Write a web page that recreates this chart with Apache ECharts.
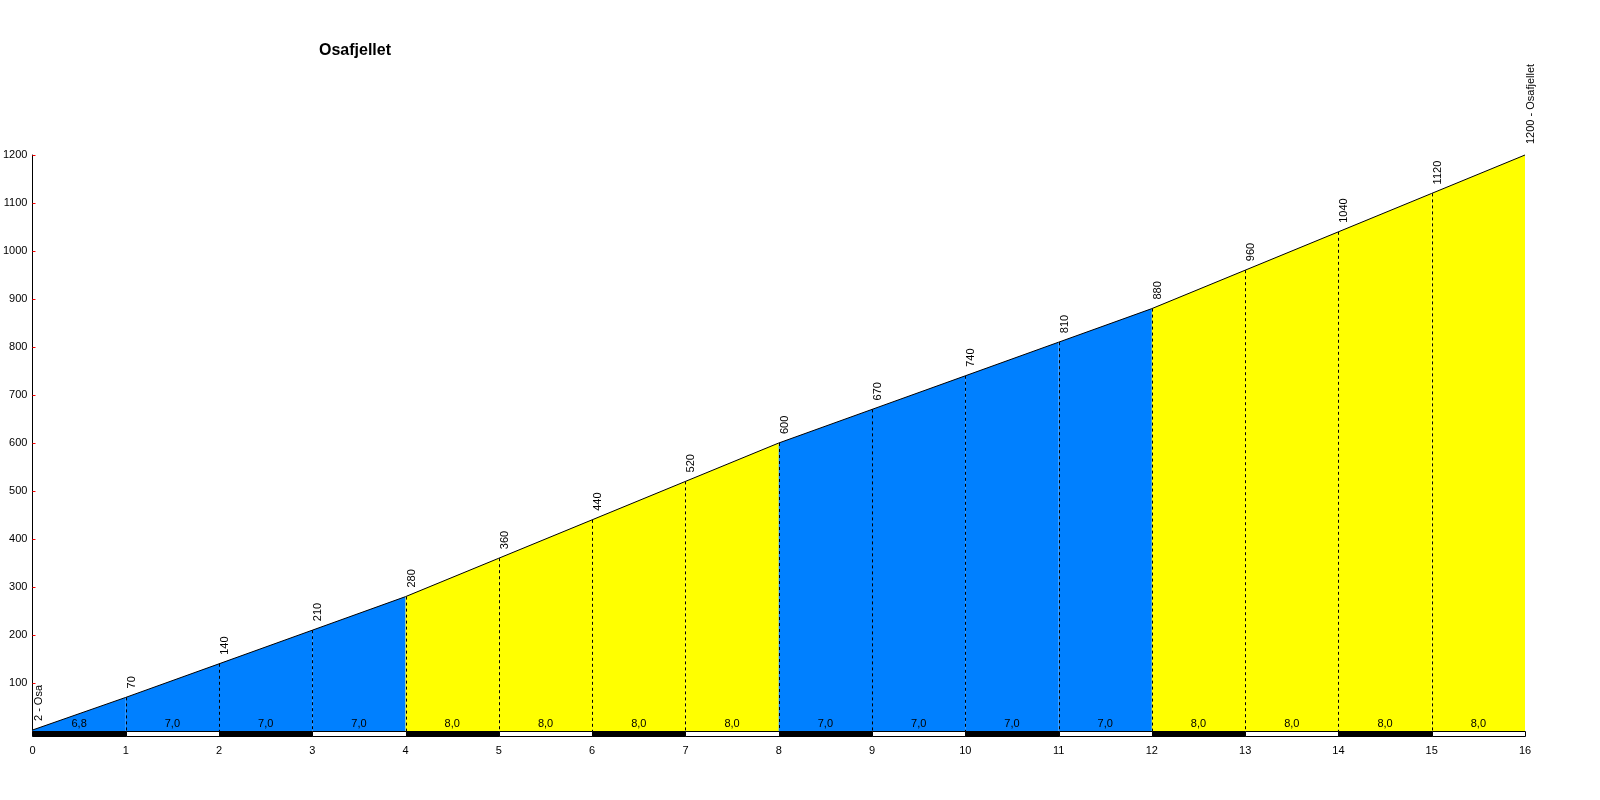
<!DOCTYPE html>
<html>
<head>
<meta charset="utf-8">
<script src="https://cdn.jsdelivr.net/npm/echarts@6/dist/echarts.min.js"></script>
<style>
html,body{margin:0;padding:0;background:#fff;}
#c{width:1600px;height:800px;}
</style>
</head>
<body>
<div id="c"></div>
<script>
const kms = [0,1,2,3,4,5,6,7,8,9,10,11,12,13,14,15,16];
const elevations = [2,70,140,210,280,360,440,520,600,670,740,810,880,960,1040,1120,1200];
const pointLabels = ['2 - Osa','70','140','210','280','360','440','520','600','670','740','810','880','960','1040','1120','1200 - Osafjellet'];
const gradients = ['6,8','7,0','7,0','7,0','8,0','8,0','8,0','8,0','7,0','7,0','7,0','7,0','8,0','8,0','8,0','8,0'];
const xTicks = [0,1,2,3,4,5,6,7,8,9,10,11,12,13,14,15,16];
const title = 'Osafjellet';

const BLUE = '#0080ff', YELLOW = '#ffff00';
const FONT = 'Arial, "Liberation Sans", sans-serif';

function gradColor(g){ return parseFloat(g.replace(',', '.')) >= 7.5 ? YELLOW : BLUE; }

const segData = gradients.map((g, i) => [kms[i], elevations[i], kms[i+1], elevations[i+1], g]);
const ptData = kms.map((k, i) => [k, elevations[i], pointLabels[i]]);

const chart = echarts.init(document.getElementById('c'), null, {renderer: 'canvas'});
chart.setOption({
  animation: false,
  title: {
    text: title, left: 314, top: 38,
    textStyle: {fontFamily: FONT, fontSize: 16, fontWeight: 'bold', color: '#000'}
  },
  grid: {left: 31, right: 75, top: 155, bottom: 69, containLabel: false},
  xAxis: {
    type: 'value', min: 0, max: 16, interval: 1,
    axisLine: {show: false}, axisTick: {show: false}, splitLine: {show: false},
    axisLabel: {
      margin: 14, color: '#000', fontFamily: FONT, fontSize: 11,
      formatter: v => xTicks.includes(v) ? String(v) : ''
    }
  },
  yAxis: {
    type: 'value', min: 0, max: 1200, interval: 100,
    axisLine: {show: true, lineStyle: {color: '#000', width: 1}},
    axisTick: {show: true, inside: true, length: 3, lineStyle: {color: '#ff0000'}},
    splitLine: {show: false},
    axisLabel: {
      margin: 5, color: '#000', fontFamily: FONT, fontSize: 11,
      formatter: v => v === 0 ? '' : String(v)
    }
  },
  series: [
    {
      type: 'custom', z: 1, clip: false,
      data: segData,
      renderItem: function (params, api) {
        const x0 = api.value(0), e0 = api.value(1), x1 = api.value(2), e1 = api.value(3);
        const g = segData[params.dataIndex][4];
        const p00 = api.coord([x0, 0]), p0 = api.coord([x0, e0]);
        const p1 = api.coord([x1, e1]), p10 = api.coord([x1, 0]);
        return {
          type: 'polygon',
          shape: {points: [p00, p0, p1, p10]},
          style: {fill: gradColor(g), stroke: null}
        };
      }
    },
    {
      type: 'custom', z: 2, clip: false,
      data: segData,
      renderItem: function (params, api) {
        const i = params.dataIndex;
        const x0 = api.value(0), e0 = api.value(1), x1 = api.value(2), e1 = api.value(3);
        const g = segData[i][4];
        const p00 = api.coord([x0, 0]), p0 = api.coord([x0, e0]);
        const p1 = api.coord([x1, e1]), p10 = api.coord([x1, 0]);
        const children = [];
        if (i > 0) {
          children.push({
            type: 'line',
            shape: {x1: Math.round(p0[0]) + 0.5, y1: p0[1], x2: Math.round(p0[0]) + 0.5, y2: p00[1]},
            style: {stroke: '#000', lineWidth: 1, lineDash: [3, 3]}
          });
        }
        children.push({
          type: 'line',
          shape: {x1: p0[0], y1: p0[1], x2: p1[0], y2: p1[1]},
          style: {stroke: '#000', lineWidth: 1}
        });
        children.push({
          type: 'rect',
          shape: {x: Math.round(p00[0]) + 0.5, y: Math.round(p00[1]) + 0.5, width: Math.round(p10[0]) - Math.round(p00[0]), height: 5},
          style: {fill: i % 2 === 0 ? '#000' : '#fff', stroke: '#000', lineWidth: 1}
        });
        children.push({
          type: 'text',
          x: (p00[0] + p10[0]) / 2, y: p00[1] - 7,
          style: {text: g, fill: '#000', font: '11px ' + FONT, align: 'center', verticalAlign: 'middle'}
        });
        return {type: 'group', children: children};
      }
    },
    {
      type: 'custom', z: 3, clip: false,
      data: ptData,
      renderItem: function (params, api) {
        const p = api.coord([api.value(0), api.value(1)]);
        const last = params.dataIndex === ptData.length - 1;
        return {
          type: 'text',
          x: p[0] + 6, y: p[1] - (last ? 11 : 9),
          rotation: Math.PI / 2,
          style: {text: ptData[params.dataIndex][2], fill: '#000', font: '11px ' + FONT, align: 'left', verticalAlign: 'middle'}
        };
      }
    }
  ]
});
</script>
</body>
</html>
